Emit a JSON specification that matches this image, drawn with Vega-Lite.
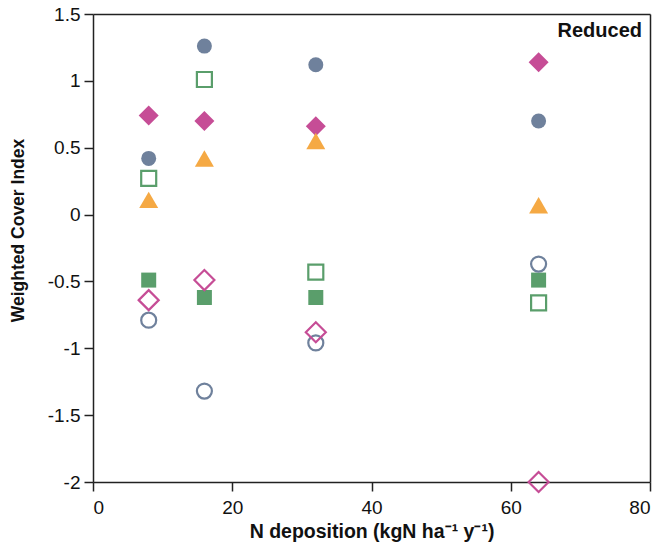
{
  "$schema": "https://vega.github.io/schema/vega-lite/v6.json",
  "width": 557,
  "height": 468,
  "autosize": {"type": "none"},
  "padding": {"left": 93, "top": 14, "right": 14, "bottom": 69},
  "background": "white",
  "config": {
    "font": "Liberation Sans",
    "view": {"stroke": null},
    "axis": {
      "grid": false,
      "domainColor": "#222",
      "domainWidth": 1.5,
      "tickColor": "#222",
      "tickWidth": 1.5,
      "tickSize": 9,
      "labelFont": "Liberation Sans",
      "labelFontSize": 19,
      "labelColor": "#111",
      "titleFont": "Liberation Sans",
      "titleFontWeight": "bold",
      "titleColor": "#111"
    }
  },
  "resolve": {"axis": {"x": "independent", "y": "independent"}},
  "datasets": {
    "points": [
      {"x": 8, "y": 0.42, "group": "circle", "fill": "filled"},
      {"x": 16, "y": 1.26, "group": "circle", "fill": "filled"},
      {"x": 32, "y": 1.12, "group": "circle", "fill": "filled"},
      {"x": 64, "y": 0.70, "group": "circle", "fill": "filled"},
      {"x": 8, "y": -0.79, "group": "circle", "fill": "open"},
      {"x": 16, "y": -1.32, "group": "circle", "fill": "open"},
      {"x": 32, "y": -0.96, "group": "circle", "fill": "open"},
      {"x": 64, "y": -0.37, "group": "circle", "fill": "open"},
      {"x": 8, "y": 0.74, "group": "diamond", "fill": "filled"},
      {"x": 16, "y": 0.70, "group": "diamond", "fill": "filled"},
      {"x": 32, "y": 0.66, "group": "diamond", "fill": "filled"},
      {"x": 64, "y": 1.14, "group": "diamond", "fill": "filled"},
      {"x": 8, "y": -0.64, "group": "diamond", "fill": "open"},
      {"x": 16, "y": -0.49, "group": "diamond", "fill": "open"},
      {"x": 32, "y": -0.88, "group": "diamond", "fill": "open"},
      {"x": 64, "y": -2.0, "group": "diamond", "fill": "open"},
      {"x": 8, "y": -0.49, "group": "square", "fill": "filled"},
      {"x": 16, "y": -0.62, "group": "square", "fill": "filled"},
      {"x": 32, "y": -0.62, "group": "square", "fill": "filled"},
      {"x": 64, "y": -0.49, "group": "square", "fill": "filled"},
      {"x": 8, "y": 0.27, "group": "square", "fill": "open"},
      {"x": 16, "y": 1.01, "group": "square", "fill": "open"},
      {"x": 32, "y": -0.43, "group": "square", "fill": "open"},
      {"x": 64, "y": -0.66, "group": "square", "fill": "open"},
      {"x": 8, "y": 0.11, "group": "triangle", "fill": "filled"},
      {"x": 16, "y": 0.42, "group": "triangle", "fill": "filled"},
      {"x": 32, "y": 0.55, "group": "triangle", "fill": "filled"},
      {"x": 64, "y": 0.07, "group": "triangle", "fill": "filled"}
    ],
    "annotation": [{"label": "Reduced", "x": 80, "y": 1.5}]
  },
  "layer": [
    {
      "data": {"name": "points"},
      "encoding": {
        "x": {
          "field": "x",
          "type": "quantitative",
          "scale": {"domain": [0, 80], "nice": false},
          "axis": {"values": [0, 20, 40, 60, 80], "title": "N deposition (kgN ha⁻¹ y⁻¹)", "labelPadding": 7, "titlePadding": 5, "titleFontSize": 19.5}
        },
        "y": {
          "field": "y",
          "type": "quantitative",
          "scale": {"domain": [-2, 1.5], "nice": false},
          "axis": {
            "values": [-2, -1.5, -1, -0.5, 0, 0.5, 1, 1.5],
            "labelExpr": "'' + datum.value",
            "title": "Weighted Cover Index",
            "titleFontSize": 17.5,
            "labelPadding": 4,
            "titleX": -75,
            "titleY": 216,
            "titleAlign": "center",
            "titleBaseline": "middle"
          }
        },
        "shape": {
          "field": "group",
          "type": "nominal",
          "scale": {"domain": ["circle", "diamond", "square", "triangle"], "range": ["circle", "diamond", "square", "triangle-up"]},
          "legend": null
        },
        "color": {
          "field": "group",
          "type": "nominal",
          "scale": {"domain": ["circle", "diamond", "square", "triangle"], "range": ["#6f819c", "#c64d96", "#5a9e6b", "#f5a944"]},
          "legend": null
        },
        "size": {
          "field": "group",
          "type": "nominal",
          "scale": {"type": "ordinal", "domain": ["circle", "diamond", "square", "triangle"], "range": [225, 400, 225, 360]},
          "legend": null
        }
      },
      "layer": [
        {
          "transform": [{"filter": "datum.fill === 'filled'"}],
          "mark": {"type": "point", "filled": true, "opacity": 1}
        },
        {
          "transform": [{"filter": "datum.fill === 'open'"}],
          "mark": {"type": "point", "filled": false, "opacity": 1, "strokeWidth": 2.2}
        }
      ]
    },
    {
      "data": {"name": "annotation"},
      "mark": {"type": "text", "align": "right", "baseline": "top", "dx": -8, "dy": 7, "fontSize": 20, "fontWeight": "bold", "font": "Liberation Sans", "fill": "#111"},
      "encoding": {
        "x": {
          "field": "x",
          "type": "quantitative",
          "axis": {"orient": "top", "labels": false, "ticks": false, "title": null, "grid": false, "domain": true}
        },
        "y": {
          "field": "y",
          "type": "quantitative",
          "axis": {"orient": "right", "labels": false, "ticks": false, "title": null, "grid": false, "domain": true}
        },
        "text": {"field": "label"}
      }
    }
  ]
}
